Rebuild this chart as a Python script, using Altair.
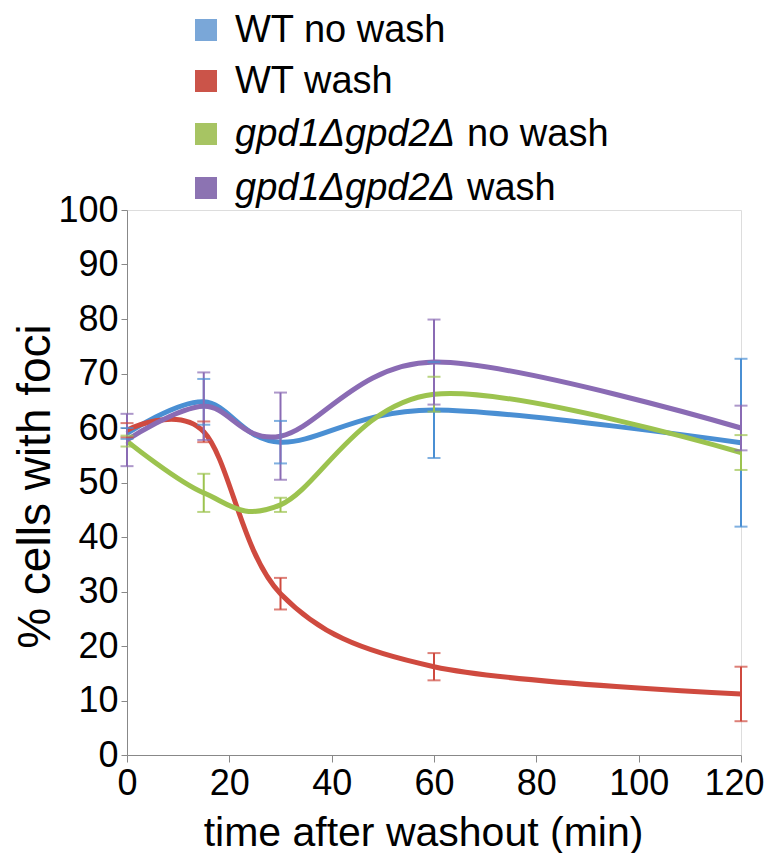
import altair as alt
import pandas as pd

# ---- data ----
times = [0, 15, 30, 60, 120]
series = ["WT no wash", "WT wash", "gpd1Δgpd2Δ no wash", "gpd1Δgpd2Δ wash"]

wt_nowash = [59.0, 64.8, 57.4, 63.3, 57.3]
wt_nowash_err = [1.0, 4.2, 3.9, 8.8, 15.4]
wt_wash = [59.6, 59.3, 29.6, 16.2, 11.2]
wt_wash_err = [1.3, 1.9, 2.9, 2.5, 5.0]
gpd_nowash = [57.6, 48.1, 45.9, 66.2, 55.5]
gpd_nowash_err = [1.0, 3.5, 1.3, 3.2, 3.2]
gpd_wash = [57.8, 64.0, 58.5, 72.1, 60.0]
gpd_wash_err = [4.8, 6.2, 8.0, 7.8, 4.1]

legend_italic = ["", "", "gpd1Δgpd2Δ", "gpd1Δgpd2Δ"]
legend_roman = ["WT no wash", "WT wash", "no wash", "wash"]

x_ticks = [0, 20, 40, 60, 80, 100, 120]
y_ticks = [0, 10, 20, 30, 40, 50, 60, 70, 80, 90, 100]

line_colors = ["#4a8fd3", "#cf4a3f", "#9cc34f", "#8a6bb4"]
err_colors = ["#6ea5e0", "#dc6a5e", "#a9cc66", "#9a80c2"]
legend_colors = ["#7aa7d8", "#cb5449", "#a7c463", "#8c73b2"]

means = [wt_nowash, wt_wash, gpd_nowash, gpd_wash]
errs = [wt_nowash_err, wt_wash_err, gpd_nowash_err, gpd_wash_err]

rows = []
for s, m, e in zip(series, means, errs):
    for t, v, d in zip(times, m, e):
        rows.append({"series": s, "time": t, "value": v, "lo": v - d, "hi": v + d})
df = pd.DataFrame(rows)

FONT = "Liberation Sans, Arial, Helvetica, sans-serif"

xscale = alt.Scale(domain=[0, 120], nice=False, zero=True)
yscale = alt.Scale(domain=[0, 100], nice=False)
cscale = alt.Scale(domain=series, range=line_colors)
escale = alt.Scale(domain=series, range=err_colors)

x_enc = alt.X(
    "time:Q",
    scale=xscale,
    axis=alt.Axis(
        values=x_ticks,
        title="time after washout (min)",
        titleFontSize=41,
        titleFontWeight="normal",
        titleFont=FONT,
        titleColor="#000000",
        titleBaseline="alphabetic",
        titleY=90,
        titleX=296,
        labelFontSize=36,
        labelFont=FONT,
        labelColor="#000000",
        labelPadding=4,
        labelAlign={"condition": {"test": "datum.value == 120", "value": "right"}, "value": "center"},
        labelOffset={"condition": {"test": "datum.value == 120", "value": 23}, "value": 0},
        tickSize=7,
        grid=False,
    ),
)
y_enc = alt.Y(
    "value:Q",
    scale=yscale,
    axis=alt.Axis(
        values=y_ticks,
        title="% cells with foci",
        titleFontSize=46,
        titleFontWeight="normal",
        titleFont=FONT,
        titleColor="#000000",
        titleBaseline="alphabetic",
        titleX=-78,
        titleY=276,
        labelFontSize=36,
        labelFont=FONT,
        labelColor="#000000",
        labelPadding=3,
        tickSize=6,
        grid=False,
    ),
)

base = alt.Chart(df)

rules = base.mark_rule(strokeWidth=2).encode(
    x=alt.X("time:Q", scale=xscale),
    y=alt.Y("lo:Q", scale=yscale),
    y2="hi:Q",
    color=alt.Color("series:N", scale=escale, legend=None),
)
caps_lo = base.mark_tick(orient="horizontal", size=13, thickness=2).encode(
    x=alt.X("time:Q", scale=xscale),
    y=alt.Y("lo:Q", scale=yscale),
    color=alt.Color("series:N", scale=escale, legend=None),
)
caps_hi = base.mark_tick(orient="horizontal", size=13, thickness=2).encode(
    x=alt.X("time:Q", scale=xscale),
    y=alt.Y("hi:Q", scale=yscale),
    color=alt.Color("series:N", scale=escale, legend=None),
)

lines = base.mark_line(interpolate="cardinal", tension=0, strokeWidth=5).encode(
    x=x_enc,
    y=y_enc,
    color=alt.Color("series:N", scale=cscale, legend=None),
    order=alt.Order("time:Q"),
    detail="series:N",
)

# manual legend (mixed italic / roman text)
legend_y = [-180, -129, -76, -22]
sq_x = 79
txt_x = 108
italic_w = 220
legend_layers = []
for i in range(len(series)):
    d = pd.DataFrame({"it": [legend_italic[i]], "rm": [legend_roman[i]]})
    c = alt.Chart(d)
    legend_layers.append(
        c.mark_square(size=484, color=legend_colors[i], opacity=1, strokeWidth=0).encode(
            x=alt.value(sq_x), y=alt.value(legend_y[i])
        )
    )
    rx = txt_x
    if legend_italic[i]:
        legend_layers.append(
            c.mark_text(align="left", baseline="alphabetic", fontSize=38, font=FONT,
                        fontStyle="italic", color="#000000").encode(
                x=alt.value(txt_x), y=alt.value(legend_y[i] + 12), text="it:N"
            )
        )
        rx = txt_x + italic_w + 12
    legend_layers.append(
        c.mark_text(align="left", baseline="alphabetic", fontSize=38, font=FONT,
                    color="#000000").encode(
            x=alt.value(rx), y=alt.value(legend_y[i] + 12), text="rm:N"
        )
    )

chart = alt.layer(lines, rules, caps_lo, caps_hi, *legend_layers).properties(
    width=614,
    height=545,
    autosize=alt.AutoSizeParams(type="none"),
    padding={"left": 119, "top": 202, "right": 23, "bottom": 98},
).configure_view(stroke=None).configure_axis(
    domainColor="#aaaaaa",
    domainWidth=2.5,
    tickColor="#aaaaaa",
    tickWidth=2,
).configure(background="#ffffff")

chart.save("out.html", embed_options={"renderer": "svg", "actions": False})
